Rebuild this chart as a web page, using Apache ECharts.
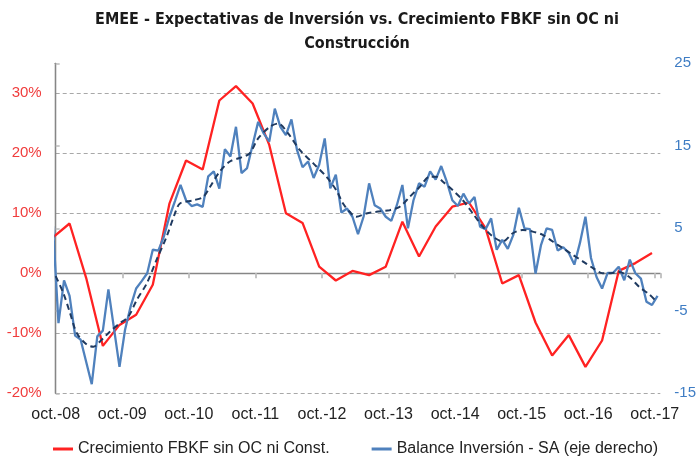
<!DOCTYPE html>
<html>
<head>
<meta charset="utf-8">
<script src="https://cdn.jsdelivr.net/npm/echarts@6/dist/echarts.min.js"></script>
<style>
html,body{margin:0;padding:0;background:#ffffff;}
#chart{width:699px;height:460px;}
</style>
</head>
<body>
<div id="chart"></div>
<script>
// ---- data (x positions are months counted from the oct.-08 tick) ----
const tickLabels = ['oct.-08','oct.-09','oct.-10','oct.-11','oct.-12','oct.-13','oct.-14','oct.-15','oct.-16','oct.-17'];
const monthsPerTick = 12;
const lastMonth = 109;

const redName = 'Crecimiento FBKF sin OC ni Const.';
const blueName = 'Balance Inversión - SA (eje derecho)';

// quarterly growth (%), first quarter placed half a month before the oct.-08 tick
const redStart = -0.5;
const redStep = 3;
const redValues = [6.0, 8.3, -0.8, -12.1, -8.6, -6.9, -1.9, 11.6, 18.8, 17.3,
  28.8, 31.2, 28.3, 21.4, 10.0, 8.4, 1.1, -1.2, 0.4, -0.3,
  1.1, 8.6, 2.8, 7.8, 11.1, 11.8, 7.5, -1.7, -0.3, -8.2,
  -13.7, -10.3, -15.6, -11.2, 0.4, 1.7, 3.4];

// monthly balance (right axis)
const blueStart = -0.5;
const blueValues = [5.3, -6.5, -1.3, -3.2, -8.0, -8.5, -11.2, -13.9, -8.1, -7.4,
  -2.4, -7.1, -11.8, -7.3, -4.5, -2.3, -1.4, -0.45, 2.4, 2.3,
  4.0, 6.4, 8.3, 10.25, 8.4, 7.7, 7.9, 7.6, 11.3, 11.9,
  9.8, 14.6, 13.7, 17.3, 11.7, 12.3, 15.1, 17.9, 16.5, 15.5,
  19.5, 17.3, 16.3, 18.2, 14.5, 12.4, 13.1, 11.1, 12.7, 15.9,
  9.85, 11.5, 6.9, 7.4, 6.4, 4.3, 6.4, 10.45, 7.8, 7.4,
  6.4, 5.9, 7.8, 10.25, 5.0, 8.4, 10.45, 10.05, 11.9, 10.9,
  12.55, 10.66, 8.4, 7.7, 9.2, 8.0, 8.8, 5.2, 4.9, 6.2,
  2.4, 3.6, 2.5, 4.2, 7.5, 5.0, 4.9, -0.5, 3.0, 5.0,
  4.8, 2.3, 2.7, 2.0, 0.6, 3.2, 6.4, 1.4, -0.9, -2.3,
  -0.4, -0.4, 0.35, -1.3, 1.2, -0.45, -1.1, -3.9, -4.3, -3.2];

// trend of the balance (dashed, right axis)
const trendMonths = [0, 1.4, 2.6, 3.8, 5.6, 6.8, 8.3, 9.8, 11.6, 13.1,
  14.6, 16.4, 18.2, 20.0, 21.5, 22.4, 24.8, 26.6, 27.8, 29.6,
  31.4, 33.5, 35.0, 36.5, 38.6, 40.1, 41.9, 44.0, 46.4, 48.8,
  50.6, 51.8, 53.0, 54.2, 56.0, 57.8, 60.2, 62.0, 63.8, 65.6,
  67.4, 68.6, 69.8, 71.6, 73.4, 75.2, 77.0, 78.8, 80.6, 82.4,
  84.2, 86.0, 87.8, 89.6, 91.4, 93.2, 95.0, 96.8, 98.6, 100.1,
  101.6, 103.4, 105.2, 107.0, 108.2];
const trendValues = [-0.8, -2.9, -5.3, -7.7, -9.1, -9.35, -8.5, -7.5, -6.5, -5.7,
  -3.7, -1.7, 1.2, 4.0, 6.8, 8.0, 8.4, 8.8, 10.0, 11.9,
  13.1, 13.6, 14.1, 15.9, 17.3, 17.7, 16.5, 14.5, 12.9, 11.25,
  9.6, 8.0, 7.0, 6.4, 6.8, 7.0, 7.2, 7.6, 8.8, 10.0,
  11.25, 11.25, 10.65, 9.6, 8.4, 6.8, 5.2, 4.0, 3.4, 4.4,
  4.8, 4.6, 4.2, 3.4, 2.6, 1.8, 1.0, 0.2, -0.45, -0.45,
  -0.3, -0.9, -2.1, -3.0, -3.8];

const leftTicks = {min: -20, max: 35, interval: 10};
const rightTicks = {min: -15, max: 25, interval: 10};

// ---- chart ----
const FONT = "'Liberation Sans', Arial, sans-serif";
const chart = echarts.init(document.getElementById('chart'), null, {renderer: 'canvas'});

function xLabel(v) {
  const i = v / monthsPerTick;
  return (Number.isInteger(i) && i < tickLabels.length) ? tickLabels[i] : '';
}

const option = {
  animation: false,
  backgroundColor: '#ffffff',
  title: {
    text: 'EMEE - Expectativas de Inversión vs. Crecimiento FBKF sin OC ni\nConstrucción',
    left: 352,
    textAlign: 'center',
    top: 3,
    textStyle: {
      fontFamily: "'DejaVu Sans Condensed', sans-serif",
      fontWeight: 'bold',
      fontSize: 16,
      lineHeight: 24,
      color: '#1a1a1a'
    }
  },
  legend: {
    data: [redName, blueName],
    left: 48,
    top: 436,
    icon: 'rect',
    itemWidth: 20,
    itemHeight: 3,
    itemGap: 42,
    textStyle: {fontFamily: FONT, fontSize: 16, color: '#222222'}
  },
  grid: {left: 55.7, right: 37.3, top: 63.3, bottom: 66.7, containLabel: false},
  xAxis: [
    {
      type: 'value',
      min: 0, max: lastMonth, interval: monthsPerTick,
      axisLine: {show: true, onZero: true, lineStyle: {color: '#868686', width: 1.3}},
      axisTick: {show: true, length: 5, lineStyle: {color: '#c4c4c4', width: 2}},
      axisLabel: {show: false},
      splitLine: {show: false}
    },
    {
      type: 'value',
      position: 'bottom',
      min: 0, max: lastMonth, interval: monthsPerTick,
      axisLine: {show: false, onZero: false},
      axisTick: {show: false},
      axisLabel: {show: true, margin: 13, color: '#222222', fontFamily: FONT, fontSize: 16, formatter: xLabel},
      splitLine: {show: false}
    }
  ],
  yAxis: [
    {
      type: 'value',
      position: 'left',
      min: leftTicks.min, max: leftTicks.max, interval: leftTicks.interval,
      axisLine: {show: true, lineStyle: {color: '#868686', width: 1.3}},
      axisTick: {show: false},
      axisLabel: {
        color: '#f03c3c', fontFamily: FONT, fontSize: 15, margin: 14,
        showMaxLabel: false,
        formatter: v => (v === leftTicks.max ? '' : v + '%')
      },
      splitLine: {show: true, showMaxLine: false, lineStyle: {color: '#a8a8a8', type: [4, 3], width: 1}}
    },
    {
      type: 'value',
      position: 'right',
      min: rightTicks.min, max: rightTicks.max, interval: rightTicks.interval,
      axisLine: {show: true, lineStyle: {color: '#868686', width: 1.3}},
      axisTick: {show: true, length: 4, lineStyle: {color: '#bcbcbc', width: 1.5}},
      axisLabel: {color: '#3f7dc4', fontFamily: FONT, fontSize: 15, margin: 14},
      splitLine: {show: false}
    }
  ],
  series: [
    {
      name: redName,
      type: 'line',
      xAxisIndex: 0, yAxisIndex: 0,
      data: redValues.map((v, j) => [redStart + redStep * j, v]),
      symbol: 'none',
      lineStyle: {color: '#ff2222', width: 2.3},
      itemStyle: {color: '#ff2222'},
      clip: true
    },
    {
      name: blueName,
      type: 'line',
      xAxisIndex: 0, yAxisIndex: 1,
      data: blueValues.map((v, i) => [blueStart + i, v]),
      symbol: 'none',
      lineStyle: {color: '#4f81bd', width: 2.3},
      itemStyle: {color: '#4f81bd'},
      clip: true
    },
    {
      name: 'Tendencia',
      type: 'line',
      xAxisIndex: 0, yAxisIndex: 1,
      data: trendMonths.map((m, i) => [m, trendValues[i]]),
      symbol: 'none',
      smooth: 0.3,
      lineStyle: {color: '#1f3a60', width: 2, type: [6, 4]},
      itemStyle: {color: '#1f3a60'},
      clip: true
    }
  ]
};
chart.setOption(option);
</script>
</body>
</html>
